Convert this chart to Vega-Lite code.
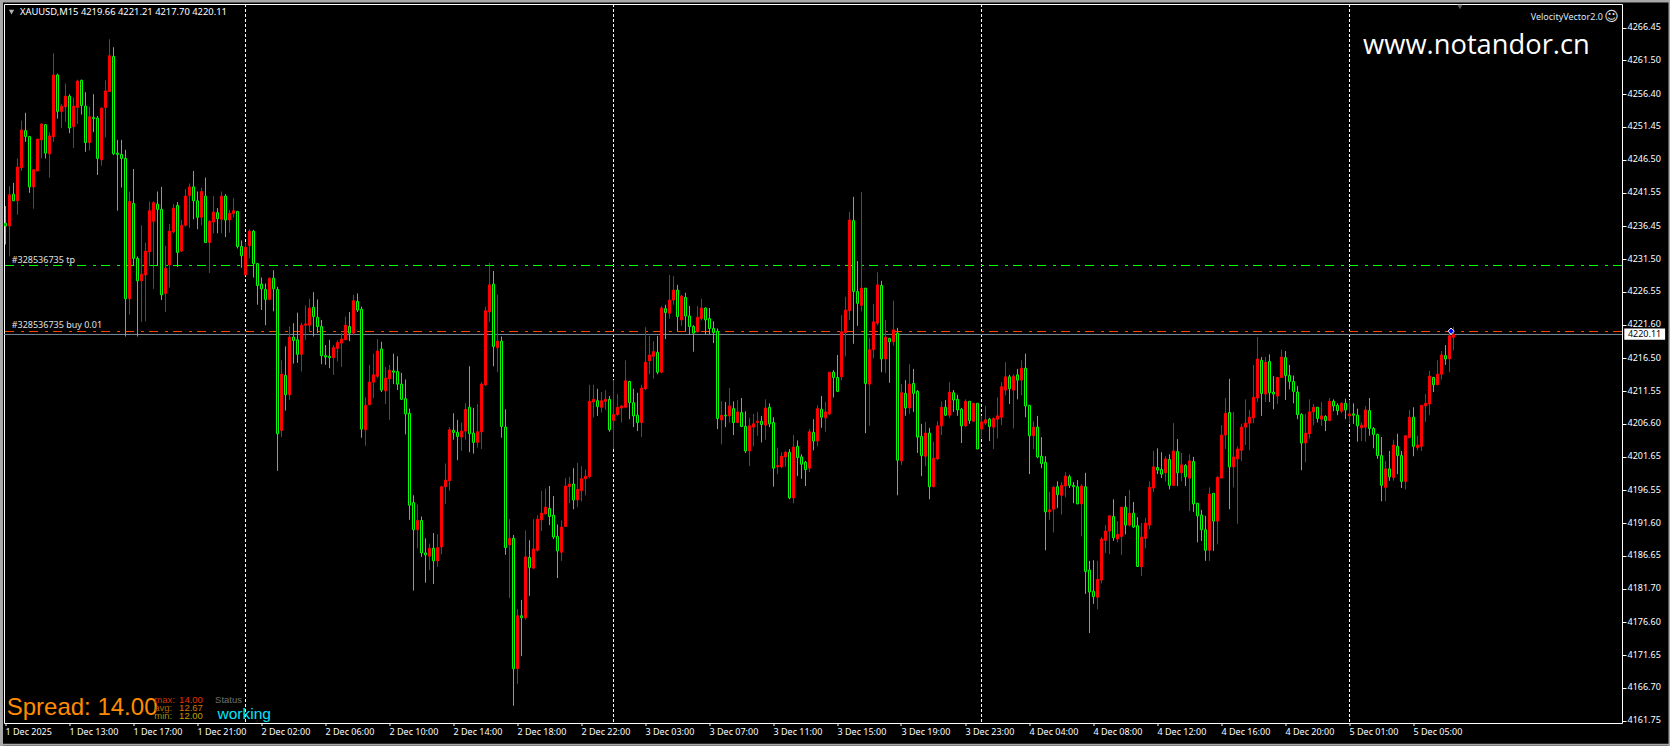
{"$schema":"https://vega.github.io/schema/vega-lite/v6.json","autosize":{"type":"none"},"width":1618,"height":719,"padding":{"left":4,"top":4,"right":48,"bottom":23},"background":"#000000","config":{"view":{"stroke":"#ffffff","strokeWidth":1,"fill":"#000000"}},
"datasets":{"candles":[
{"bar":0,"open":4236.9,"high":4239.5,"low":4233.7,"close":4236.5},
{"bar":1,"open":4236.5,"high":4242.5,"low":4231.9,"close":4241.2},
{"bar":2,"open":4241.3,"high":4243.0,"low":4240.3,"close":4240.3},
{"bar":3,"open":4240.3,"high":4246.7,"low":4238.2,"close":4245.4},
{"bar":4,"open":4245.3,"high":4252.4,"low":4244.8,"close":4251.0},
{"bar":5,"open":4250.9,"high":4253.6,"low":4249.2,"close":4250.0},
{"bar":6,"open":4250.0,"high":4250.1,"low":4241.5,"close":4242.4},
{"bar":7,"open":4242.4,"high":4245.0,"low":4239.1,"close":4245.0},
{"bar":8,"open":4244.8,"high":4249.7,"low":4244.8,"close":4249.6},
{"bar":9,"open":4249.5,"high":4252.0,"low":4246.7,"close":4251.9},
{"bar":10,"open":4251.8,"high":4251.9,"low":4246.7,"close":4247.5},
{"bar":11,"open":4247.4,"high":4250.6,"low":4243.8,"close":4250.1},
{"bar":12,"open":4250.0,"high":4262.6,"low":4249.2,"close":4259.3},
{"bar":13,"open":4259.3,"high":4259.5,"low":4252.7,"close":4253.8},
{"bar":14,"open":4253.8,"high":4254.9,"low":4251.3,"close":4254.6},
{"bar":15,"open":4254.5,"high":4258.0,"low":4252.2,"close":4256.1},
{"bar":16,"open":4256.1,"high":4256.4,"low":4250.5,"close":4251.3},
{"bar":17,"open":4251.5,"high":4255.9,"low":4248.3,"close":4254.6},
{"bar":18,"open":4254.4,"high":4258.6,"low":4251.9,"close":4258.4},
{"bar":19,"open":4258.5,"high":4258.6,"low":4253.3,"close":4254.7},
{"bar":20,"open":4254.6,"high":4256.7,"low":4247.7,"close":4249.1},
{"bar":21,"open":4249.1,"high":4254.5,"low":4247.9,"close":4253.0},
{"bar":22,"open":4252.9,"high":4256.4,"low":4250.7,"close":4252.7},
{"bar":23,"open":4252.8,"high":4253.1,"low":4244.2,"close":4246.7},
{"bar":24,"open":4246.5,"high":4254.4,"low":4245.6,"close":4254.3},
{"bar":25,"open":4254.4,"high":4258.5,"low":4249.9,"close":4256.9},
{"bar":26,"open":4256.8,"high":4264.7,"low":4256.8,"close":4262.2},
{"bar":27,"open":4262.1,"high":4263.5,"low":4247.2,"close":4247.4},
{"bar":28,"open":4247.5,"high":4249.5,"low":4238.8,"close":4247.3},
{"bar":29,"open":4247.3,"high":4249.5,"low":4242.3,"close":4246.7},
{"bar":30,"open":4246.7,"high":4248.0,"low":4219.8,"close":4225.5},
{"bar":31,"open":4225.5,"high":4241.7,"low":4223.1,"close":4240.2},
{"bar":32,"open":4239.9,"high":4245.1,"low":4230.5,"close":4231.6},
{"bar":33,"open":4231.6,"high":4231.9,"low":4219.8,"close":4228.2},
{"bar":34,"open":4228.2,"high":4236.6,"low":4222.0,"close":4229.2},
{"bar":35,"open":4229.1,"high":4234.0,"low":4222.1,"close":4232.7},
{"bar":36,"open":4232.6,"high":4240.2,"low":4230.5,"close":4238.8},
{"bar":37,"open":4237.2,"high":4240.2,"low":4227.0,"close":4240.0},
{"bar":38,"open":4239.8,"high":4241.7,"low":4230.5,"close":4239.0},
{"bar":39,"open":4239.0,"high":4242.4,"low":4225.3,"close":4226.1},
{"bar":40,"open":4226.3,"high":4233.5,"low":4223.5,"close":4230.1},
{"bar":41,"open":4230.6,"high":4236.8,"low":4227.2,"close":4235.7},
{"bar":42,"open":4235.6,"high":4239.8,"low":4235.4,"close":4239.2},
{"bar":43,"open":4239.6,"high":4240.1,"low":4230.3,"close":4232.5},
{"bar":44,"open":4232.7,"high":4237.4,"low":4232.6,"close":4236.6},
{"bar":45,"open":4236.6,"high":4242.1,"low":4236.4,"close":4241.0},
{"bar":46,"open":4241.1,"high":4242.9,"low":4236.2,"close":4242.4},
{"bar":47,"open":4242.4,"high":4244.8,"low":4237.5,"close":4240.3},
{"bar":48,"open":4240.3,"high":4241.7,"low":4236.0,"close":4237.8},
{"bar":49,"open":4237.8,"high":4242.3,"low":4236.6,"close":4241.7},
{"bar":50,"open":4241.0,"high":4243.8,"low":4234.0,"close":4234.0},
{"bar":51,"open":4234.0,"high":4237.4,"low":4229.4,"close":4237.2},
{"bar":52,"open":4237.1,"high":4241.0,"low":4235.4,"close":4238.6},
{"bar":53,"open":4238.5,"high":4239.2,"low":4235.4,"close":4237.6},
{"bar":54,"open":4237.5,"high":4241.7,"low":4235.4,"close":4241.0},
{"bar":55,"open":4241.0,"high":4241.3,"low":4234.8,"close":4237.4},
{"bar":56,"open":4237.4,"high":4238.9,"low":4235.5,"close":4238.4},
{"bar":57,"open":4238.4,"high":4240.7,"low":4237.8,"close":4238.8},
{"bar":58,"open":4238.7,"high":4238.7,"low":4233.1,"close":4233.4},
{"bar":59,"open":4233.4,"high":4234.3,"low":4230.2,"close":4232.0},
{"bar":60,"open":4229.1,"high":4234.0,"low":4229.1,"close":4233.3},
{"bar":61,"open":4233.5,"high":4236.0,"low":4231.6,"close":4235.7},
{"bar":62,"open":4235.7,"high":4235.9,"low":4228.7,"close":4230.8},
{"bar":63,"open":4230.8,"high":4230.8,"low":4224.6,"close":4227.5},
{"bar":64,"open":4227.7,"high":4228.7,"low":4223.8,"close":4227.0},
{"bar":65,"open":4226.9,"high":4227.8,"low":4221.5,"close":4225.4},
{"bar":66,"open":4225.4,"high":4228.7,"low":4225.3,"close":4228.6},
{"bar":67,"open":4228.6,"high":4229.8,"low":4223.6,"close":4227.0},
{"bar":68,"open":4226.9,"high":4227.3,"low":4199.5,"close":4205.1},
{"bar":69,"open":4205.6,"high":4216.2,"low":4204.6,"close":4214.1},
{"bar":70,"open":4213.9,"high":4218.3,"low":4208.6,"close":4211.0},
{"bar":71,"open":4211.0,"high":4221.3,"low":4210.2,"close":4219.7},
{"bar":72,"open":4219.7,"high":4221.8,"low":4215.7,"close":4219.2},
{"bar":73,"open":4219.3,"high":4223.4,"low":4215.8,"close":4217.1},
{"bar":74,"open":4217.1,"high":4221.9,"low":4214.5,"close":4221.5},
{"bar":75,"open":4221.5,"high":4224.5,"low":4219.3,"close":4221.7},
{"bar":76,"open":4221.5,"high":4225.5,"low":4220.5,"close":4224.1},
{"bar":77,"open":4224.2,"high":4226.5,"low":4219.8,"close":4222.8},
{"bar":78,"open":4222.7,"high":4225.4,"low":4220.3,"close":4221.3},
{"bar":79,"open":4221.3,"high":4222.3,"low":4215.6,"close":4216.9},
{"bar":80,"open":4216.9,"high":4218.5,"low":4215.5,"close":4216.7},
{"bar":81,"open":4216.8,"high":4219.3,"low":4215.0,"close":4216.6},
{"bar":82,"open":4216.6,"high":4218.5,"low":4214.0,"close":4218.1},
{"bar":83,"open":4218.0,"high":4219.2,"low":4216.0,"close":4218.9},
{"bar":84,"open":4218.8,"high":4220.3,"low":4215.2,"close":4219.4},
{"bar":85,"open":4219.3,"high":4222.8,"low":4219.3,"close":4221.5},
{"bar":86,"open":4221.3,"high":4223.5,"low":4219.1,"close":4220.3},
{"bar":87,"open":4220.3,"high":4226.1,"low":4220.0,"close":4225.2},
{"bar":88,"open":4225.1,"high":4226.3,"low":4223.5,"close":4223.8},
{"bar":89,"open":4223.9,"high":4224.3,"low":4204.5,"close":4205.8},
{"bar":90,"open":4205.7,"high":4210.6,"low":4203.3,"close":4209.4},
{"bar":91,"open":4209.5,"high":4215.5,"low":4209.4,"close":4212.9},
{"bar":92,"open":4212.9,"high":4217.2,"low":4210.5,"close":4214.0},
{"bar":93,"open":4213.8,"high":4219.4,"low":4213.5,"close":4217.6},
{"bar":94,"open":4217.9,"high":4219.0,"low":4211.4,"close":4211.7},
{"bar":95,"open":4211.6,"high":4215.2,"low":4209.6,"close":4213.5},
{"bar":96,"open":4213.4,"high":4215.5,"low":4207.2,"close":4214.7},
{"bar":97,"open":4214.6,"high":4217.2,"low":4212.6,"close":4214.4},
{"bar":98,"open":4214.5,"high":4216.8,"low":4211.7,"close":4212.6},
{"bar":99,"open":4212.6,"high":4214.3,"low":4210.2,"close":4210.3},
{"bar":100,"open":4210.4,"high":4213.3,"low":4205.0,"close":4208.1},
{"bar":101,"open":4208.2,"high":4208.9,"low":4192.1,"close":4194.3},
{"bar":102,"open":4194.7,"high":4195.8,"low":4181.4,"close":4190.6},
{"bar":103,"open":4190.6,"high":4194.4,"low":4187.8,"close":4192.0},
{"bar":104,"open":4192.0,"high":4192.6,"low":4186.5,"close":4187.1},
{"bar":105,"open":4187.1,"high":4189.3,"low":4182.6,"close":4186.8},
{"bar":106,"open":4186.6,"high":4188.5,"low":4184.5,"close":4187.8},
{"bar":107,"open":4187.8,"high":4190.1,"low":4182.4,"close":4185.9},
{"bar":108,"open":4185.9,"high":4189.9,"low":4185.0,"close":4187.9},
{"bar":109,"open":4188.0,"high":4197.2,"low":4186.9,"close":4197.1},
{"bar":110,"open":4197.1,"high":4200.6,"low":4194.5,"close":4198.1},
{"bar":111,"open":4198.0,"high":4206.1,"low":4196.5,"close":4205.7},
{"bar":112,"open":4205.6,"high":4208.2,"low":4204.2,"close":4205.3},
{"bar":113,"open":4205.3,"high":4207.2,"low":4201.1,"close":4204.7},
{"bar":114,"open":4204.6,"high":4206.8,"low":4202.5,"close":4205.5},
{"bar":115,"open":4205.5,"high":4209.7,"low":4204.2,"close":4208.8},
{"bar":116,"open":4209.1,"high":4215.3,"low":4202.3,"close":4205.1},
{"bar":117,"open":4205.2,"high":4209.0,"low":4202.1,"close":4203.8},
{"bar":118,"open":4203.8,"high":4209.6,"low":4203.0,"close":4205.4},
{"bar":119,"open":4205.4,"high":4212.9,"low":4202.8,"close":4212.6},
{"bar":120,"open":4212.5,"high":4224.3,"low":4212.3,"close":4223.7},
{"bar":121,"open":4223.5,"high":4230.9,"low":4222.0,"close":4227.6},
{"bar":122,"open":4227.7,"high":4229.7,"low":4215.3,"close":4218.3},
{"bar":123,"open":4218.1,"high":4226.1,"low":4214.4,"close":4219.1},
{"bar":124,"open":4219.1,"high":4219.8,"low":4204.5,"close":4206.2},
{"bar":125,"open":4206.1,"high":4208.8,"low":4186.8,"close":4187.9},
{"bar":126,"open":4188.3,"high":4192.2,"low":4180.3,"close":4189.3},
{"bar":127,"open":4189.3,"high":4189.8,"low":4164.0,"close":4169.6},
{"bar":128,"open":4169.6,"high":4178.6,"low":4167.3,"close":4177.6},
{"bar":129,"open":4177.6,"high":4180.0,"low":4171.5,"close":4177.3},
{"bar":130,"open":4177.3,"high":4190.5,"low":4177.0,"close":4186.5},
{"bar":131,"open":4186.4,"high":4189.0,"low":4180.6,"close":4184.9},
{"bar":132,"open":4184.8,"high":4192.2,"low":4184.7,"close":4187.7},
{"bar":133,"open":4187.5,"high":4192.8,"low":4187.3,"close":4192.2},
{"bar":134,"open":4192.1,"high":4196.5,"low":4190.4,"close":4193.1},
{"bar":135,"open":4193.0,"high":4196.8,"low":4192.9,"close":4194.0},
{"bar":136,"open":4193.8,"high":4197.2,"low":4191.3,"close":4192.6},
{"bar":137,"open":4192.8,"high":4195.7,"low":4189.2,"close":4189.5},
{"bar":138,"open":4189.6,"high":4191.4,"low":4183.3,"close":4187.4},
{"bar":139,"open":4187.2,"high":4192.0,"low":4185.9,"close":4191.0},
{"bar":140,"open":4191.1,"high":4198.4,"low":4191.1,"close":4197.2},
{"bar":141,"open":4197.1,"high":4198.6,"low":4194.6,"close":4197.5},
{"bar":142,"open":4197.5,"high":4199.9,"low":4193.7,"close":4195.1},
{"bar":143,"open":4195.1,"high":4200.7,"low":4194.0,"close":4196.7},
{"bar":144,"open":4196.5,"high":4200.2,"low":4194.9,"close":4198.3},
{"bar":145,"open":4198.3,"high":4199.7,"low":4195.8,"close":4198.7},
{"bar":146,"open":4198.6,"high":4212.5,"low":4198.4,"close":4210.0},
{"bar":147,"open":4209.9,"high":4212.5,"low":4207.6,"close":4210.3},
{"bar":148,"open":4210.1,"high":4211.9,"low":4207.8,"close":4209.2},
{"bar":149,"open":4209.1,"high":4211.4,"low":4208.3,"close":4210.1},
{"bar":150,"open":4210.0,"high":4211.7,"low":4208.7,"close":4210.3},
{"bar":151,"open":4210.3,"high":4210.8,"low":4205.4,"close":4205.7},
{"bar":152,"open":4207.1,"high":4213.2,"low":4202.8,"close":4208.0},
{"bar":153,"open":4208.0,"high":4211.1,"low":4207.8,"close":4209.1},
{"bar":154,"open":4209.0,"high":4209.4,"low":4206.8,"close":4209.3},
{"bar":155,"open":4209.1,"high":4216.2,"low":4209.1,"close":4213.1},
{"bar":156,"open":4213.0,"high":4213.1,"low":4207.3,"close":4209.8},
{"bar":157,"open":4209.8,"high":4211.9,"low":4206.1,"close":4207.8},
{"bar":158,"open":4207.9,"high":4211.3,"low":4205.5,"close":4206.8},
{"bar":159,"open":4206.8,"high":4212.5,"low":4204.6,"close":4212.0},
{"bar":160,"open":4211.9,"high":4221.2,"low":4211.7,"close":4215.9},
{"bar":161,"open":4216.1,"high":4219.9,"low":4214.1,"close":4217.0},
{"bar":162,"open":4216.8,"high":4219.1,"low":4213.4,"close":4217.5},
{"bar":163,"open":4217.4,"high":4219.9,"low":4214.1,"close":4214.4},
{"bar":164,"open":4214.4,"high":4224.4,"low":4214.3,"close":4224.1},
{"bar":165,"open":4224.0,"high":4224.6,"low":4219.4,"close":4223.4},
{"bar":166,"open":4223.3,"high":4229.1,"low":4222.5,"close":4225.3},
{"bar":167,"open":4225.3,"high":4228.9,"low":4224.6,"close":4226.8},
{"bar":168,"open":4226.8,"high":4227.6,"low":4220.6,"close":4222.8},
{"bar":169,"open":4222.3,"high":4226.1,"low":4221.4,"close":4225.9},
{"bar":170,"open":4225.7,"high":4226.4,"low":4220.6,"close":4222.9},
{"bar":171,"open":4222.9,"high":4224.4,"low":4220.1,"close":4221.3},
{"bar":172,"open":4221.3,"high":4221.5,"low":4217.5,"close":4220.3},
{"bar":173,"open":4220.5,"high":4224.4,"low":4220.4,"close":4222.7},
{"bar":174,"open":4222.5,"high":4225.5,"low":4222.2,"close":4224.1},
{"bar":175,"open":4224.1,"high":4224.2,"low":4220.1,"close":4222.3},
{"bar":176,"open":4222.5,"high":4224.1,"low":4220.1,"close":4221.0},
{"bar":177,"open":4221.0,"high":4222.1,"low":4218.8,"close":4220.4},
{"bar":178,"open":4220.6,"high":4221.0,"low":4205.8,"close":4207.4},
{"bar":179,"open":4207.2,"high":4210.0,"low":4203.5,"close":4207.9},
{"bar":180,"open":4207.9,"high":4209.9,"low":4206.1,"close":4207.8},
{"bar":181,"open":4207.8,"high":4212.0,"low":4206.8,"close":4209.3},
{"bar":182,"open":4208.9,"high":4210.0,"low":4204.9,"close":4206.8},
{"bar":183,"open":4206.8,"high":4210.2,"low":4206.7,"close":4208.4},
{"bar":184,"open":4208.3,"high":4210.5,"low":4206.1,"close":4206.2},
{"bar":185,"open":4206.2,"high":4208.5,"low":4202.2,"close":4202.5},
{"bar":186,"open":4202.5,"high":4207.5,"low":4200.2,"close":4206.3},
{"bar":187,"open":4206.1,"high":4208.1,"low":4203.2,"close":4206.6},
{"bar":188,"open":4206.8,"high":4208.4,"low":4204.8,"close":4207.0},
{"bar":189,"open":4207.0,"high":4207.8,"low":4203.8,"close":4206.5},
{"bar":190,"open":4206.4,"high":4210.3,"low":4204.2,"close":4209.0},
{"bar":191,"open":4209.1,"high":4209.7,"low":4206.1,"close":4206.6},
{"bar":192,"open":4206.8,"high":4207.6,"low":4197.1,"close":4199.9},
{"bar":193,"open":4200.1,"high":4203.0,"low":4199.0,"close":4200.3},
{"bar":194,"open":4200.1,"high":4202.3,"low":4199.9,"close":4201.7},
{"bar":195,"open":4201.6,"high":4202.5,"low":4200.1,"close":4202.3},
{"bar":196,"open":4202.3,"high":4202.8,"low":4195.2,"close":4195.4},
{"bar":197,"open":4195.4,"high":4204.9,"low":4194.6,"close":4203.1},
{"bar":198,"open":4203.2,"high":4204.1,"low":4198.7,"close":4201.5},
{"bar":199,"open":4201.6,"high":4202.0,"low":4198.3,"close":4200.5},
{"bar":200,"open":4200.8,"high":4201.0,"low":4197.2,"close":4199.7},
{"bar":201,"open":4199.9,"high":4205.8,"low":4199.3,"close":4205.4},
{"bar":202,"open":4205.3,"high":4207.3,"low":4202.6,"close":4204.0},
{"bar":203,"open":4204.0,"high":4209.4,"low":4203.2,"close":4208.9},
{"bar":204,"open":4208.8,"high":4210.8,"low":4206.0,"close":4207.6},
{"bar":205,"open":4207.5,"high":4209.9,"low":4205.4,"close":4208.4},
{"bar":206,"open":4208.1,"high":4214.4,"low":4207.9,"close":4214.4},
{"bar":207,"open":4214.4,"high":4214.7,"low":4210.6,"close":4213.6},
{"bar":208,"open":4213.6,"high":4217.0,"low":4211.4,"close":4211.5},
{"bar":209,"open":4213.7,"high":4223.0,"low":4213.2,"close":4220.5},
{"bar":210,"open":4220.4,"high":4225.8,"low":4216.8,"close":4223.8},
{"bar":211,"open":4223.7,"high":4238.6,"low":4222.3,"close":4237.4},
{"bar":212,"open":4237.3,"high":4240.9,"low":4218.7,"close":4226.6},
{"bar":213,"open":4226.6,"high":4231.2,"low":4221.4,"close":4224.8},
{"bar":214,"open":4224.5,"high":4241.6,"low":4223.6,"close":4227.1},
{"bar":215,"open":4227.1,"high":4227.1,"low":4205.2,"close":4212.7},
{"bar":216,"open":4212.6,"high":4219.6,"low":4206.3,"close":4217.8},
{"bar":217,"open":4217.8,"high":4224.7,"low":4216.5,"close":4222.0},
{"bar":218,"open":4221.8,"high":4229.5,"low":4221.5,"close":4227.6},
{"bar":219,"open":4227.5,"high":4228.2,"low":4214.4,"close":4216.4},
{"bar":220,"open":4216.4,"high":4222.3,"low":4214.3,"close":4219.7},
{"bar":221,"open":4219.5,"high":4219.6,"low":4212.8,"close":4219.0},
{"bar":222,"open":4219.0,"high":4225.2,"low":4218.4,"close":4220.8},
{"bar":223,"open":4220.3,"high":4221.1,"low":4195.8,"close":4201.1},
{"bar":224,"open":4201.0,"high":4212.6,"low":4200.4,"close":4211.3},
{"bar":225,"open":4211.2,"high":4213.2,"low":4207.8,"close":4209.0},
{"bar":226,"open":4209.0,"high":4215.6,"low":4208.1,"close":4212.6},
{"bar":227,"open":4212.7,"high":4214.9,"low":4208.4,"close":4211.2},
{"bar":228,"open":4211.5,"high":4211.7,"low":4202.2,"close":4204.6},
{"bar":229,"open":4204.7,"high":4206.6,"low":4198.7,"close":4201.8},
{"bar":230,"open":4201.7,"high":4206.9,"low":4200.2,"close":4205.2},
{"bar":231,"open":4205.2,"high":4206.0,"low":4195.2,"close":4197.1},
{"bar":232,"open":4197.1,"high":4203.9,"low":4197.0,"close":4201.4},
{"bar":233,"open":4201.3,"high":4207.0,"low":4201.1,"close":4206.3},
{"bar":234,"open":4206.3,"high":4210.0,"low":4204.9,"close":4209.1},
{"bar":235,"open":4209.1,"high":4210.2,"low":4207.8,"close":4207.9},
{"bar":236,"open":4207.9,"high":4212.9,"low":4207.5,"close":4211.4},
{"bar":237,"open":4211.3,"high":4211.7,"low":4208.4,"close":4210.2},
{"bar":238,"open":4210.3,"high":4211.0,"low":4207.8,"close":4208.7},
{"bar":239,"open":4208.8,"high":4209.0,"low":4203.7,"close":4206.3},
{"bar":240,"open":4206.3,"high":4210.3,"low":4206.1,"close":4210.0},
{"bar":241,"open":4210.0,"high":4210.0,"low":4206.6,"close":4207.1},
{"bar":242,"open":4207.0,"high":4209.7,"low":4206.9,"close":4209.7},
{"bar":243,"open":4209.7,"high":4209.7,"low":4202.8,"close":4202.8},
{"bar":244,"open":4205.8,"high":4207.8,"low":4204.4,"close":4206.9},
{"bar":245,"open":4206.7,"high":4209.3,"low":4206.4,"close":4207.2},
{"bar":246,"open":4207.3,"high":4207.5,"low":4204.0,"close":4206.2},
{"bar":247,"open":4206.1,"high":4207.6,"low":4202.8,"close":4207.4},
{"bar":248,"open":4207.3,"high":4210.6,"low":4204.4,"close":4207.8},
{"bar":249,"open":4207.6,"high":4212.9,"low":4206.4,"close":4212.2},
{"bar":250,"open":4211.7,"high":4215.9,"low":4210.9,"close":4213.7},
{"bar":251,"open":4213.7,"high":4214.0,"low":4209.6,"close":4211.9},
{"bar":252,"open":4211.7,"high":4214.1,"low":4205.9,"close":4213.8},
{"bar":253,"open":4214.0,"high":4214.9,"low":4210.3,"close":4213.2},
{"bar":254,"open":4213.2,"high":4216.2,"low":4210.9,"close":4215.0},
{"bar":255,"open":4215.0,"high":4217.2,"low":4207.6,"close":4209.3},
{"bar":256,"open":4209.4,"high":4209.4,"low":4199.0,"close":4204.8},
{"bar":257,"open":4204.8,"high":4207.0,"low":4202.8,"close":4206.1},
{"bar":258,"open":4206.1,"high":4207.8,"low":4201.4,"close":4201.6},
{"bar":259,"open":4201.7,"high":4204.6,"low":4199.9,"close":4200.6},
{"bar":260,"open":4200.8,"high":4201.7,"low":4187.5,"close":4193.3},
{"bar":261,"open":4193.3,"high":4196.3,"low":4192.1,"close":4193.6},
{"bar":262,"open":4193.7,"high":4197.2,"low":4190.2,"close":4197.0},
{"bar":263,"open":4197.1,"high":4197.9,"low":4193.9,"close":4195.9},
{"bar":264,"open":4195.8,"high":4197.8,"low":4192.9,"close":4197.3},
{"bar":265,"open":4197.2,"high":4199.3,"low":4195.5,"close":4198.7},
{"bar":266,"open":4198.6,"high":4198.9,"low":4196.9,"close":4197.3},
{"bar":267,"open":4197.3,"high":4197.8,"low":4194.6,"close":4197.1},
{"bar":268,"open":4197.1,"high":4198.1,"low":4194.5,"close":4194.5},
{"bar":269,"open":4194.5,"high":4197.5,"low":4189.6,"close":4197.2},
{"bar":270,"open":4197.1,"high":4199.2,"low":4180.9,"close":4184.3},
{"bar":271,"open":4184.5,"high":4185.9,"low":4175.0,"close":4181.2},
{"bar":272,"open":4181.3,"high":4186.0,"low":4179.4,"close":4180.5},
{"bar":273,"open":4180.4,"high":4185.9,"low":4178.6,"close":4183.1},
{"bar":274,"open":4183.0,"high":4189.5,"low":4182.5,"close":4189.2},
{"bar":275,"open":4189.0,"high":4191.3,"low":4187.1,"close":4190.4},
{"bar":276,"open":4190.4,"high":4192.7,"low":4186.9,"close":4192.7},
{"bar":277,"open":4192.6,"high":4195.2,"low":4188.9,"close":4189.4},
{"bar":278,"open":4189.2,"high":4191.9,"low":4188.7,"close":4189.9},
{"bar":279,"open":4189.6,"high":4194.0,"low":4186.8,"close":4194.0},
{"bar":280,"open":4194.0,"high":4195.7,"low":4189.9,"close":4191.3},
{"bar":281,"open":4191.3,"high":4196.6,"low":4191.1,"close":4193.1},
{"bar":282,"open":4193.1,"high":4194.8,"low":4190.9,"close":4191.0},
{"bar":283,"open":4191.2,"high":4192.5,"low":4185.0,"close":4185.05},
{"bar":284,"open":4185.0,"high":4191.6,"low":4183.6,"close":4189.5},
{"bar":285,"open":4189.3,"high":4192.4,"low":4187.8,"close":4191.6},
{"bar":286,"open":4191.3,"high":4197.9,"low":4190.7,"close":4197.0},
{"bar":287,"open":4196.9,"high":4202.5,"low":4196.3,"close":4200.1},
{"bar":288,"open":4200.0,"high":4202.9,"low":4199.0,"close":4199.6},
{"bar":289,"open":4199.7,"high":4202.3,"low":4198.4,"close":4199.0},
{"bar":290,"open":4199.2,"high":4201.7,"low":4197.9,"close":4201.3},
{"bar":291,"open":4201.2,"high":4202.0,"low":4196.7,"close":4197.3},
{"bar":292,"open":4197.3,"high":4206.7,"low":4197.3,"close":4202.5},
{"bar":293,"open":4202.4,"high":4204.3,"low":4197.2,"close":4199.2},
{"bar":294,"open":4199.2,"high":4202.2,"low":4197.9,"close":4200.4},
{"bar":295,"open":4200.3,"high":4200.5,"low":4197.2,"close":4198.6},
{"bar":296,"open":4198.4,"high":4202.0,"low":4193.4,"close":4201.0},
{"bar":297,"open":4200.9,"high":4201.6,"low":4193.3,"close":4194.5},
{"bar":298,"open":4194.6,"high":4194.6,"low":4188.7,"close":4192.7},
{"bar":299,"open":4192.8,"high":4193.6,"low":4188.9,"close":4190.6},
{"bar":300,"open":4190.6,"high":4192.7,"low":4185.9,"close":4187.5},
{"bar":301,"open":4187.5,"high":4197.0,"low":4185.9,"close":4196.0},
{"bar":302,"open":4196.1,"high":4196.1,"low":4187.4,"close":4191.9},
{"bar":303,"open":4191.9,"high":4198.7,"low":4188.4,"close":4198.5},
{"bar":304,"open":4198.4,"high":4206.4,"low":4198.4,"close":4204.9},
{"bar":305,"open":4204.9,"high":4210.5,"low":4202.8,"close":4208.2},
{"bar":306,"open":4208.3,"high":4213.4,"low":4193.7,"close":4200.1},
{"bar":307,"open":4200.1,"high":4208.4,"low":4197.0,"close":4201.6},
{"bar":308,"open":4201.3,"high":4203.2,"low":4191.5,"close":4202.8},
{"bar":309,"open":4202.6,"high":4206.6,"low":4201.0,"close":4206.1},
{"bar":310,"open":4206.1,"high":4210.3,"low":4203.4,"close":4206.7},
{"bar":311,"open":4206.7,"high":4208.7,"low":4202.6,"close":4207.6},
{"bar":312,"open":4207.5,"high":4215.5,"low":4206.7,"close":4210.6},
{"bar":313,"open":4210.5,"high":4219.7,"low":4209.9,"close":4216.4},
{"bar":314,"open":4216.2,"high":4216.7,"low":4207.8,"close":4211.2},
{"bar":315,"open":4211.1,"high":4216.7,"low":4209.9,"close":4215.9},
{"bar":316,"open":4216.0,"high":4217.1,"low":4209.9,"close":4211.3},
{"bar":317,"open":4211.4,"high":4213.8,"low":4208.8,"close":4211.1},
{"bar":318,"open":4210.8,"high":4213.7,"low":4209.6,"close":4213.6},
{"bar":319,"open":4213.6,"high":4217.8,"low":4213.6,"close":4216.7},
{"bar":320,"open":4216.6,"high":4217.6,"low":4210.2,"close":4213.9},
{"bar":321,"open":4213.9,"high":4215.5,"low":4211.8,"close":4213.0},
{"bar":322,"open":4213.0,"high":4213.9,"low":4209.7,"close":4211.5},
{"bar":323,"open":4211.4,"high":4212.3,"low":4207.3,"close":4208.0},
{"bar":324,"open":4208.0,"high":4208.2,"low":4199.6,"close":4203.7},
{"bar":325,"open":4203.7,"high":4208.1,"low":4200.8,"close":4205.2},
{"bar":326,"open":4205.1,"high":4210.3,"low":4204.4,"close":4208.4},
{"bar":327,"open":4208.4,"high":4209.6,"low":4206.4,"close":4209.1},
{"bar":328,"open":4209.1,"high":4209.1,"low":4206.8,"close":4207.4},
{"bar":329,"open":4207.3,"high":4209.9,"low":4206.3,"close":4207.8},
{"bar":330,"open":4207.7,"high":4207.9,"low":4205.5,"close":4207.1},
{"bar":331,"open":4207.1,"high":4210.5,"low":4207.0,"close":4210.0},
{"bar":332,"open":4210.0,"high":4210.3,"low":4208.5,"close":4209.3},
{"bar":333,"open":4209.4,"high":4209.7,"low":4207.9,"close":4208.6},
{"bar":334,"open":4208.5,"high":4209.9,"low":4208.2,"close":4209.7},
{"bar":335,"open":4209.7,"high":4210.4,"low":4207.3,"close":4208.7},
{"bar":336,"open":4207.8,"high":4210.2,"low":4206.7,"close":4208.1},
{"bar":337,"open":4208.1,"high":4209.7,"low":4206.6,"close":4207.9},
{"bar":338,"open":4207.9,"high":4208.9,"low":4203.9,"close":4206.3},
{"bar":339,"open":4206.0,"high":4206.8,"low":4204.0,"close":4206.4},
{"bar":340,"open":4206.1,"high":4209.3,"low":4203.9,"close":4208.7},
{"bar":341,"open":4208.6,"high":4210.5,"low":4204.8,"close":4205.9},
{"bar":342,"open":4205.9,"high":4206.1,"low":4202.9,"close":4205.0},
{"bar":343,"open":4205.0,"high":4205.1,"low":4201.3,"close":4201.8},
{"bar":344,"open":4201.8,"high":4204.6,"low":4194.9,"close":4197.3},
{"bar":345,"open":4197.0,"high":4201.0,"low":4194.9,"close":4199.8},
{"bar":346,"open":4199.8,"high":4202.5,"low":4198.0,"close":4198.6},
{"bar":347,"open":4198.5,"high":4204.2,"low":4198.0,"close":4203.4},
{"bar":348,"open":4203.2,"high":4205.1,"low":4199.0,"close":4201.8},
{"bar":349,"open":4201.8,"high":4202.5,"low":4196.9,"close":4197.9},
{"bar":350,"open":4197.9,"high":4204.8,"low":4196.7,"close":4204.8},
{"bar":351,"open":4204.5,"high":4208.7,"low":4204.5,"close":4207.6},
{"bar":352,"open":4207.6,"high":4209.1,"low":4201.7,"close":4203.2},
{"bar":353,"open":4203.0,"high":4204.8,"low":4202.6,"close":4203.4},
{"bar":354,"open":4203.2,"high":4209.4,"low":4202.5,"close":4209.4},
{"bar":355,"open":4209.3,"high":4211.1,"low":4206.9,"close":4209.7},
{"bar":356,"open":4209.6,"high":4214.6,"low":4207.9,"close":4213.8},
{"bar":357,"open":4213.6,"high":4213.7,"low":4211.4,"close":4212.5},
{"bar":358,"open":4212.5,"high":4216.2,"low":4212.5,"close":4214.1},
{"bar":359,"open":4214.1,"high":4217.6,"low":4213.3,"close":4217.0},
{"bar":360,"open":4216.9,"high":4218.5,"low":4215.5,"close":4216.4},
{"bar":361,"open":4216.4,"high":4220.3,"low":4214.4,"close":4219.9},
{"bar":362,"open":4219.66,"high":4221.21,"low":4217.7,"close":4220.11}
]},
"layer":[
{"data":{"values":[{}]},"mark":{"type":"rule","color":"#ffffff","strokeWidth":1,"strokeDash":[3,2]},"encoding":{"x":{"datum":60,"type":"quantitative","axis":{"orient":"bottom","title":null,"grid":false,"domain":false,"translate":0,"tickColor":"#ffffff","tickSize":3,"tickCount":40,"labelColor":"#ffffff","labelFont":"Noto Sans","labelFontSize":9,"labelAlign":"left","labelBaseline":"top","labelPadding":2,"labelOverlap":false,"labelBound":false,"labelFlush":false,"values":[0,16,32,48,64,80,96,112,128,144,160,176,192,208,224,240,256,272,288,304,320,336,352],"labelExpr":"['1 Dec 2025','1 Dec 13:00','1 Dec 17:00','1 Dec 21:00','2 Dec 02:00','2 Dec 06:00','2 Dec 10:00','2 Dec 14:00','2 Dec 18:00','2 Dec 22:00','3 Dec 03:00','3 Dec 07:00','3 Dec 11:00','3 Dec 15:00','3 Dec 19:00','3 Dec 23:00','4 Dec 04:00','4 Dec 08:00','4 Dec 12:00','4 Dec 16:00','4 Dec 20:00','5 Dec 01:00','5 Dec 05:00'][datum.value/16]"},"scale":{"domain":[-0.375,404.125],"nice":false,"zero":false,"padding":0}}}},
{"data":{"values":[{}]},"mark":{"type":"rule","color":"#ffffff","strokeWidth":1,"strokeDash":[3,2]},"encoding":{"x":{"datum":152,"type":"quantitative"}}},
{"data":{"values":[{}]},"mark":{"type":"rule","color":"#ffffff","strokeWidth":1,"strokeDash":[3,2]},"encoding":{"x":{"datum":244,"type":"quantitative"}}},
{"data":{"values":[{}]},"mark":{"type":"rule","color":"#ffffff","strokeWidth":1,"strokeDash":[3,2]},"encoding":{"x":{"datum":336,"type":"quantitative"}}},
{"data":{"values":[{}]},"mark":{"type":"rule","color":"#00ff00","strokeWidth":1,"strokeDash":[9,5,3,7]},"encoding":{"y":{"datum":4230.52,"type":"quantitative","axis":{"orient":"right","title":null,"grid":false,"domain":false,"tickColor":"#ffffff","tickSize":4,"tickCount":40,"labelColor":"#ffffff","labelFont":"Noto Sans","labelFontSize":9,"labelPadding":1,"labelOffset":-1,"labelOverlap":false,"labelBound":false,"labelFlush":false,"format":".2f","values":[4266.45,4261.5,4256.4,4251.45,4246.5,4241.55,4236.45,4231.5,4226.55,4221.6,4216.5,4211.55,4206.6,4201.65,4196.55,4191.6,4186.65,4181.7,4176.6,4171.65,4166.7,4161.75]},"scale":{"domain":[4161.4,4270.03],"nice":false,"zero":false}}}},
{"data":{"values":[{}]},"mark":{"type":"rule","color":"#ff4500","strokeWidth":1,"strokeDash":[9,5,3,7]},"encoding":{"y":{"datum":4220.55,"type":"quantitative"}}},
{"data":{"values":[{}]},"mark":{"type":"rule","color":"#778899","strokeWidth":1},"encoding":{"y":{"datum":4220.1,"type":"quantitative"}}},
{"data":{"name":"candles"},"mark":{"type":"rule","strokeWidth":1},"encoding":{"x":{"field":"bar","type":"quantitative"},"y":{"field":"low","type":"quantitative"},"y2":{"field":"high"},"color":{"condition":{"test":"datum.close>=datum.open","value":"#ff0000"},"value":"#00ff00"}}},
{"data":{"name":"candles"},"mark":{"type":"bar","size":2,"strokeWidth":1},"encoding":{"x":{"field":"bar","type":"quantitative"},"y":{"field":"open","type":"quantitative"},"y2":{"field":"close"},"fill":{"condition":{"test":"datum.close>=datum.open","value":"#ff0000"},"value":"#000000"},"stroke":{"condition":{"test":"datum.close>=datum.open","value":"#ff0000"},"value":"#00ff00"}}},
{"data":{"values":[{}]},"mark":{"type":"text","text":"XAUUSD,M15  4219.66 4221.21 4217.70 4220.11","align":"left","baseline":"middle","font":"Noto Sans","fontSize":9.4,"color":"#ffffff"},"encoding":{"x":{"datum":3.6,"type":"quantitative"},"y":{"datum":4268.8,"type":"quantitative"}}},
{"data":{"values":[{}]},"mark":{"type":"point","shape":"triangle-down","filled":true,"size":28,"color":"#ffffff"},"encoding":{"x":{"datum":1.5,"type":"quantitative"},"y":{"datum":4268.8,"type":"quantitative"}}},
{"data":{"values":[{}]},"mark":{"type":"text","text":"#328536735 tp","align":"left","baseline":"middle","font":"Noto Sans","fontSize":9,"color":"#e0e0e0"},"encoding":{"x":{"datum":1.55,"type":"quantitative"},"y":{"datum":4231.4,"type":"quantitative"}}},
{"data":{"values":[{}]},"mark":{"type":"text","text":"#328536735 buy 0.01","align":"left","baseline":"middle","font":"Noto Sans","fontSize":9,"color":"#e0e0e0"},"encoding":{"x":{"datum":1.55,"type":"quantitative"},"y":{"datum":4221.5,"type":"quantitative"}}},
{"data":{"values":[{}]},"mark":{"type":"text","text":"Spread: 14.00","align":"left","baseline":"middle","font":"Liberation Sans","fontSize":24,"color":"#ff8c00"},"encoding":{"x":{"datum":0.3,"type":"quantitative"},"y":{"datum":4163.6,"type":"quantitative"}}},
{"data":{"values":[{}]},"mark":{"type":"text","text":"max:","align":"left","baseline":"middle","font":"Liberation Sans","fontSize":9.5,"color":"#c83200"},"encoding":{"x":{"datum":37.2,"type":"quantitative"},"y":{"datum":4164.92,"type":"quantitative"}}},
{"data":{"values":[{}]},"mark":{"type":"text","text":"avg:","align":"left","baseline":"middle","font":"Liberation Sans","fontSize":9.5,"color":"#b06400"},"encoding":{"x":{"datum":37.2,"type":"quantitative"},"y":{"datum":4163.67,"type":"quantitative"}}},
{"data":{"values":[{}]},"mark":{"type":"text","text":"min:","align":"left","baseline":"middle","font":"Liberation Sans","fontSize":9.5,"color":"#a08c00"},"encoding":{"x":{"datum":37.2,"type":"quantitative"},"y":{"datum":4162.5,"type":"quantitative"}}},
{"data":{"values":[{}]},"mark":{"type":"text","text":"14.00","align":"left","baseline":"middle","font":"Liberation Sans","fontSize":9.5,"color":"#e03000"},"encoding":{"x":{"datum":43.4,"type":"quantitative"},"y":{"datum":4164.92,"type":"quantitative"}}},
{"data":{"values":[{}]},"mark":{"type":"text","text":"12.67","align":"left","baseline":"middle","font":"Liberation Sans","fontSize":9.5,"color":"#d07800"},"encoding":{"x":{"datum":43.4,"type":"quantitative"},"y":{"datum":4163.67,"type":"quantitative"}}},
{"data":{"values":[{}]},"mark":{"type":"text","text":"12.00","align":"left","baseline":"middle","font":"Liberation Sans","fontSize":9.5,"color":"#c0a000"},"encoding":{"x":{"datum":43.4,"type":"quantitative"},"y":{"datum":4162.5,"type":"quantitative"}}},
{"data":{"values":[{}]},"mark":{"type":"text","text":"Status","align":"left","baseline":"middle","font":"Liberation Sans","fontSize":9.5,"color":"#707070"},"encoding":{"x":{"datum":52.4,"type":"quantitative"},"y":{"datum":4164.92,"type":"quantitative"}}},
{"data":{"values":[{}]},"mark":{"type":"text","text":"working","align":"left","baseline":"middle","font":"Liberation Sans","fontSize":15.5,"color":"#00e5ff"},"encoding":{"x":{"datum":53,"type":"quantitative"},"y":{"datum":4162.75,"type":"quantitative"}}},
{"data":{"values":[{}]},"mark":{"type":"text","text":"www.notandor.cn","align":"left","baseline":"middle","font":"Open Sans","fontSize":27.3,"color":"#ffffff"},"encoding":{"x":{"datum":339.4,"type":"quantitative"},"y":{"datum":4263.68,"type":"quantitative"}}},
{"data":{"values":[{}]},"mark":{"type":"text","text":"VelocityVector2.0","align":"left","baseline":"middle","font":"Noto Sans","fontSize":9,"color":"#d8e8ff"},"encoding":{"x":{"datum":381.3,"type":"quantitative"},"y":{"datum":4268.1,"type":"quantitative"}}},
{"data":{"values":[{}]},"mark":{"type":"text","text":"☺","align":"center","baseline":"middle","font":"DejaVu Sans","fontSize":14,"color":"#e0e0e0"},"encoding":{"x":{"datum":401.5,"type":"quantitative"},"y":{"datum":4268.1,"type":"quantitative"}}},
{"data":{"values":[{}]},"mark":{"type":"point","shape":"triangle-down","filled":true,"size":30,"color":"#808080"},"encoding":{"x":{"datum":363.6,"type":"quantitative"},"y":{"datum":4269.6,"type":"quantitative"}}},
{"data":{"values":[{}]},"mark":{"type":"point","shape":"diamond","filled":true,"size":40,"fill":"#0000ff","stroke":"#ffffff","strokeWidth":1,"opacity":1},"encoding":{"x":{"datum":361.4,"type":"quantitative"},"y":{"datum":4220.6,"type":"quantitative"}}},
{"data":{"values":[{}]},"mark":{"type":"rect","color":"#ffffff"},"encoding":{"x":{"datum":404.7,"type":"quantitative"},"x2":{"datum":414.9},"y":{"datum":4221.0,"type":"quantitative"},"y2":{"datum":4219.3}}},
{"data":{"values":[{}]},"mark":{"type":"text","text":"4220.11","align":"left","baseline":"middle","font":"Noto Sans","fontSize":9,"color":"#000000"},"encoding":{"x":{"datum":405.6,"type":"quantitative"},"y":{"datum":4220.15,"type":"quantitative"}}},
{"data":{"values":[{}]},"mark":{"type":"rule","color":"#a8a8a8","strokeWidth":3},"encoding":{"x":{"datum":-2,"type":"quantitative"},"x2":{"datum":416},"y":{"datum":4270.5,"type":"quantitative"}}},
{"data":{"values":[{}]},"mark":{"type":"rule","color":"#a8a8a8","strokeWidth":2},"encoding":{"x":{"datum":-2,"type":"quantitative"},"x2":{"datum":416},"y":{"datum":4158.1,"type":"quantitative"}}},
{"data":{"values":[{}]},"mark":{"type":"rule","color":"#a8a8a8","strokeWidth":3},"encoding":{"x":{"datum":-1,"type":"quantitative"},"y":{"datum":4275,"type":"quantitative"},"y2":{"datum":4155}}},
{"data":{"values":[{}]},"mark":{"type":"rule","color":"#a8a8a8","strokeWidth":2},"encoding":{"x":{"datum":416,"type":"quantitative"},"y":{"datum":4275,"type":"quantitative"},"y2":{"datum":4155}}}
]}
